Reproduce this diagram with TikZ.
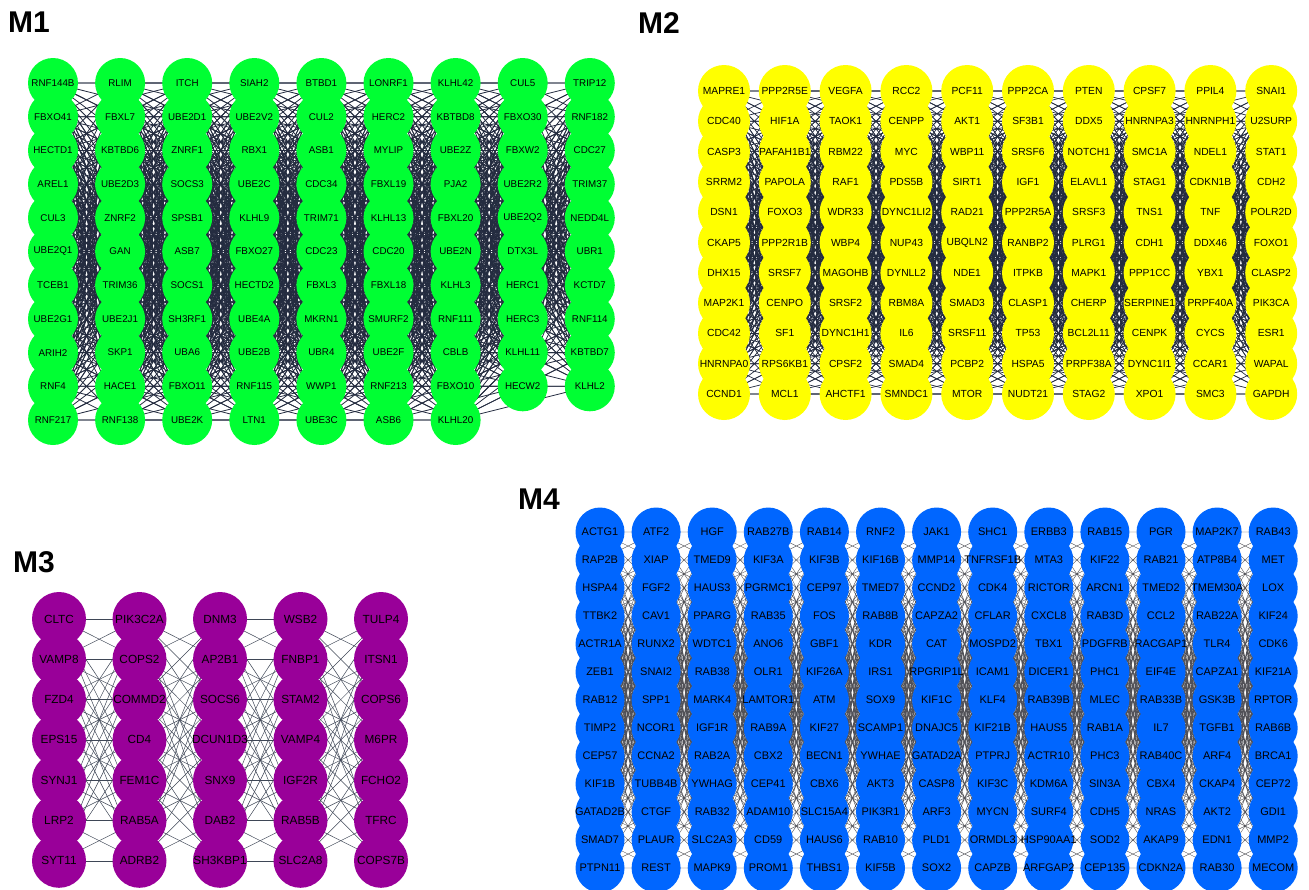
\documentclass[tikz,border=0pt]{standalone}
\usepackage{fontspec}
\setmainfont{Liberation Sans}
\usetikzlibrary{backgrounds}
\definecolor{modgreen}{RGB}{0,255,51}
\definecolor{modyellow}{RGB}{255,255,0}
\definecolor{modpurple}{RGB}{153,0,153}
\definecolor{modblue}{RGB}{0,102,255}
\definecolor{edgedark}{RGB}{36,44,64}
\definecolor{edgeslate}{RGB}{62,70,86}
\definecolor{edgegray}{RGB}{82,82,88}
\tikzset{
  gene/.style={circle,inner sep=0pt,draw=none},
  genetext/.style={inner sep=0pt,text=black},
  modtitle/.style={inner sep=0pt,anchor=base west,font=\fontsize{30}{30}\selectfont\bfseries}
}
\def\genesone{
  {RNF144B,FBXO41,HECTD1,AREL1,CUL3,UBE2Q1,TCEB1,UBE2G1,ARIH2,RNF4,RNF217},
  {RLIM,FBXL7,KBTBD6,UBE2D3,ZNRF2,GAN,TRIM36,UBE2J1,SKP1,HACE1,RNF138},
  {ITCH,UBE2D1,ZNRF1,SOCS3,SPSB1,ASB7,SOCS1,SH3RF1,UBA6,FBXO11,UBE2K},
  {SIAH2,UBE2V2,RBX1,UBE2C,KLHL9,FBXO27,HECTD2,UBE4A,UBE2B,RNF115,LTN1},
  {BTBD1,CUL2,ASB1,CDC34,TRIM71,CDC23,FBXL3,MKRN1,UBR4,WWP1,UBE3C},
  {LONRF1,HERC2,MYLIP,FBXL19,KLHL13,CDC20,FBXL18,SMURF2,UBE2F,RNF213,ASB6},
  {KLHL42,KBTBD8,UBE2Z,PJA2,FBXL20,UBE2N,KLHL3,RNF111,CBLB,FBXO10,KLHL20},
  {CUL5,FBXO30,FBXW2,UBE2R2,UBE2Q2,DTX3L,HERC1,HERC3,KLHL11,HECW2},
  {TRIP12,RNF182,CDC27,TRIM37,NEDD4L,UBR1,KCTD7,RNF114,KBTBD7,KLHL2}}
\def\genestwo{
  {MAPRE1,CDC40,CASP3,SRRM2,DSN1,CKAP5,DHX15,MAP2K1,CDC42,HNRNPA0,CCND1},
  {PPP2R5E,HIF1A,PAFAH1B1,PAPOLA,FOXO3,PPP2R1B,SRSF7,CENPO,SF1,RPS6KB1,MCL1},
  {VEGFA,TAOK1,RBM22,RAF1,WDR33,WBP4,MAGOHB,SRSF2,DYNC1H1,CPSF2,AHCTF1},
  {RCC2,CENPP,MYC,PDS5B,DYNC1LI2,NUP43,DYNLL2,RBM8A,IL6,SMAD4,SMNDC1},
  {PCF11,AKT1,WBP11,SIRT1,RAD21,UBQLN2,NDE1,SMAD3,SRSF11,PCBP2,MTOR},
  {PPP2CA,SF3B1,SRSF6,IGF1,PPP2R5A,RANBP2,ITPKB,CLASP1,TP53,HSPA5,NUDT21},
  {PTEN,DDX5,NOTCH1,ELAVL1,SRSF3,PLRG1,MAPK1,CHERP,BCL2L11,PRPF38A,STAG2},
  {CPSF7,HNRNPA3,SMC1A,STAG1,TNS1,CDH1,PPP1CC,SERPINE1,CENPK,DYNC1I1,XPO1},
  {PPIL4,HNRNPH1,NDEL1,CDKN1B,TNF,DDX46,YBX1,PRPF40A,CYCS,CCAR1,SMC3},
  {SNAI1,U2SURP,STAT1,CDH2,POLR2D,FOXO1,CLASP2,PIK3CA,ESR1,WAPAL,GAPDH}}
\def\genesthree{
  {CLTC,VAMP8,FZD4,EPS15,SYNJ1,LRP2,SYT11},
  {PIK3C2A,COPS2,COMMD2,CD4,FEM1C,RAB5A,ADRB2},
  {DNM3,AP2B1,SOCS6,DCUN1D3,SNX9,DAB2,SH3KBP1},
  {WSB2,FNBP1,STAM2,VAMP4,IGF2R,RAB5B,SLC2A8},
  {TULP4,ITSN1,COPS6,M6PR,FCHO2,TFRC,COPS7B}}
\def\genesfour{
  {ACTG1,ATF2,HGF,RAB27B,RAB14,RNF2,JAK1,SHC1,ERBB3,RAB15,PGR,MAP2K7,RAB43},
  {RAP2B,XIAP,TMED9,KIF3A,KIF3B,KIF16B,MMP14,TNFRSF1B,MTA3,KIF22,RAB21,ATP8B4,MET},
  {HSPA4,FGF2,HAUS3,PGRMC1,CEP97,TMED7,CCND2,CDK4,RICTOR,ARCN1,TMED2,TMEM30A,LOX},
  {TTBK2,CAV1,PPARG,RAB35,FOS,RAB8B,CAPZA2,CFLAR,CXCL8,RAB3D,CCL2,RAB22A,KIF24},
  {ACTR1A,RUNX2,WDTC1,ANO6,GBF1,KDR,CAT,MOSPD2,TBX1,PDGFRB,RACGAP1,TLR4,CDK6},
  {ZEB1,SNAI2,RAB38,OLR1,KIF26A,IRS1,RPGRIP1L,ICAM1,DICER1,PHC1,EIF4E,CAPZA1,KIF21A},
  {RAB12,SPP1,MARK4,LAMTOR1,ATM,SOX9,KIF1C,KLF4,RAB39B,MLEC,RAB33B,GSK3B,RPTOR},
  {TIMP2,NCOR1,IGF1R,RAB9A,KIF27,SCAMP1,DNAJC5,KIF21B,HAUS5,RAB1A,IL7,TGFB1,RAB6B},
  {CEP57,CCNA2,RAB2A,CBX2,BECN1,YWHAE,GATAD2A,PTPRJ,ACTR10,PHC3,RAB40C,ARF4,BRCA1},
  {KIF1B,TUBB4B,YWHAG,CEP41,CBX6,AKT3,CASP8,KIF3C,KDM6A,SIN3A,CBX4,CKAP4,CEP72},
  {GATAD2B,CTGF,RAB32,ADAM10,SLC15A4,PIK3R1,ARF3,MYCN,SURF4,CDH5,NRAS,AKT2,GDI1},
  {SMAD7,PLAUR,SLC2A3,CD59,HAUS6,RAB10,PLD1,ORMDL3,HSP90AA1,SOD2,AKAP9,EDN1,MMP2},
  {PTPN11,REST,MAPK9,PROM1,THBS1,KIF5B,SOX2,CAPZB,ARFGAP2,CEP135,CDKN2A,RAB30,MECOM}}
\begin{document}
\begin{tikzpicture}[x=1pt,y=-1pt,
  m1node/.style={gene,fill=modgreen,minimum size=50pt},
  m2node/.style={gene,fill=modyellow,minimum size=52pt},
  m3node/.style={gene,fill=modpurple,minimum size=54pt},
  m4node/.style={gene,fill=modblue,minimum size=49pt},
  m1text/.style={genetext,font=\fontsize{9.8}{10}\selectfont},
  m2text/.style={genetext,font=\fontsize{10.3}{11}\selectfont},
  m3text/.style={genetext,font=\fontsize{11.8}{12}\selectfont},
  m4text/.style={genetext,font=\fontsize{11}{12}\selectfont},
  m1edge/.style={draw=edgedark,line width=0.8pt},
  m2edge/.style={draw=edgedark,line width=0.7pt},
  m3edge/.style={draw=edgeslate,line width=0.5pt},
  m4edge/.style={draw=edgegray,line width=0.4pt}]
\useasboundingbox (0,0) rectangle (1309,889);

\node[modtitle] (title1) at (8,32) {M1};
\node[modtitle] (title2) at (638,33) {M2};
\node[modtitle] (title3) at (13,572) {M3};
\node[modtitle] (title4) at (518,509) {M4};

% circles
\foreach \col [count=\c] in \genesone
  \foreach \lab [count=\r] in \col
    \node[m1node] (m1-\c-\r) at ({53+67.1*(\c-1)},{83+33.7*(\r-1)}) {};
\foreach \col [count=\c] in \genestwo
  \foreach \lab [count=\r] in \col
    \node[m2node] (m2-\c-\r) at ({724+60.8*(\c-1)},{91+30.3*(\r-1)}) {};
\foreach \col [count=\c] in \genesthree
  \foreach \lab [count=\r] in \col
    \node[m3node] (m3-\c-\r) at ({59+80.5*(\c-1)},{619+40.3*(\r-1)}) {};
\foreach \row [count=\r] in \genesfour
  \foreach \lab [count=\c] in \row
    \node[m4node] (m4-\c-\r) at ({600+56.1*(\c-1)},{532+28*(\r-1)}) {};

% labels on top
\foreach \col [count=\c] in \genesone
  \foreach \lab [count=\r] in \col
    \node[m1text] at (m1-\c-\r) {\lab};
\foreach \col [count=\c] in \genestwo
  \foreach \lab [count=\r] in \col
    \node[m2text] at (m2-\c-\r) {\lab};
\foreach \col [count=\c] in \genesthree
  \foreach \lab [count=\r] in \col
    \node[m3text] at (m3-\c-\r) {\lab};
\foreach \row [count=\r] in \genesfour
  \foreach \lab [count=\c] in \row
    \node[m4text] at (m4-\c-\r) {\lab};

% edges
\begin{pgfonlayer}{background}
\foreach \a/\b/\na/\nb in {1/2/11/11,2/3/11/11,3/4/11/11,4/5/11/11,5/6/11/11,6/7/11/11,7/8/11/10,8/9/10/10,
    1/3/11/11,2/4/11/11,3/5/11/11,4/6/11/11,5/7/11/11,6/8/11/10,7/9/11/10}
  \draw[m1edge] \foreach \r in {1,...,\na} {\foreach \s in {1,...,\nb} {(m1-\a-\r.center) -- (m1-\b-\s.center)}};
\foreach \a/\b in {1/2,2/3,3/4,4/5,5/6,6/7,7/8,8/9,9/10,1/3,2/4,3/5,4/6,5/7,6/8,7/9,8/10}
  \draw[m2edge] \foreach \r in {1,...,11} {\foreach \s in {1,...,11} {(m2-\a-\r.center) -- (m2-\b-\s.center)}};
\foreach \a [evaluate=\a as \b using int(\a+1)] in {1,...,4}
  \foreach \r in {1,...,7}
    \foreach \s in {1,...,7} {
      \pgfmathtruncatemacro\keep{mod(3*\r+5*\s+2*\a,4)}
      \ifnum\keep>0 \draw[m3edge] (m3-\a-\r.center) -- (m3-\b-\s.center);\fi
    }
\foreach \a [evaluate=\a as \b using int(\a+1)] in {1,...,12}
  \draw[m4edge] \foreach \r in {1,...,13} {\foreach \s in {1,...,13} {(m4-\a-\r.center) -- (m4-\b-\s.center)}};
\end{pgfonlayer}
\end{tikzpicture}
\end{document}
